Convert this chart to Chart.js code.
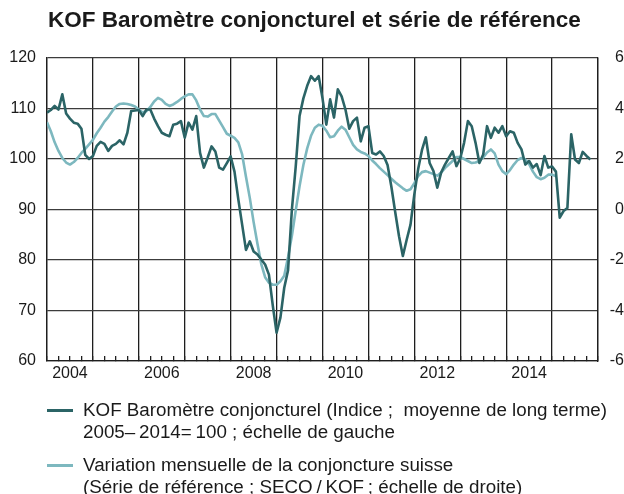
<!DOCTYPE html>
<html>
<head>
<meta charset="utf-8">
<script src="https://cdn.jsdelivr.net/npm/chart.js@4.4.1/dist/chart.umd.min.js"></script>
<style>
  body { margin: 0; background: #fff; font-family: "Liberation Sans", Arial, sans-serif; color: #1a1a1a; }
  #wrap { position: relative; width: 624px; height: 494px; overflow: hidden; }
  #chart { position: absolute; left: 0; top: 0; }
  h1 { position: absolute; left: 48px; top: 7px; margin: 0; font-size: 22.5px; font-weight: bold; white-space: nowrap; }
  .key { position: absolute; left: 47px; font-size: 18.8px; line-height: 22px; white-space: nowrap; }
  .key .dash { position: absolute; left: 0; top: 10px; width: 26px; height: 2.5px; }
  .key .txt { position: absolute; left: 36px; top: 0; }
</style>
</head>
<body>
<div id="wrap">
  <canvas id="chart" width="624" height="494"></canvas>
  <h1>KOF Baromètre conjoncturel et série de référence</h1>
  <div class="key" style="top:399px">
    <span class="dash" style="background:#2b6466"></span>
    <div class="txt">KOF Baromètre conjoncturel (Indice ;&nbsp; moyenne de long terme)<br>2005–&thinsp;2014=&thinsp;100 ; échelle de gauche</div>
  </div>
  <div class="key" style="top:454px">
    <span class="dash" style="background:#7db8bf"></span>
    <div class="txt">Variation mensuelle de la conjoncture suisse<br>(Série de référence ; SECO&thinsp;/&thinsp;KOF&thinsp;; échelle de droite)</div>
  </div>
</div>
<script>
// monthly values, first value = January 2004
const firstYear = 2004
const monthsShown = 144

// KOF barometer, left scale
const kofIndex = [
  109.2, 109.7, 110.5, 109.8, 112.8, 109.0, 108.0, 107.2, 107.0, 106.0, 100.8, 100.0,
  100.6, 102.6, 103.4, 103.0, 101.6, 102.6, 103.0, 103.7, 102.9, 105.2, 109.5, 109.6,
  109.7, 108.5, 109.8, 109.8, 108.0, 106.5, 105.2, 104.8, 104.5, 106.8, 107.0, 107.5,
  104.2, 107.2, 105.8, 108.5, 101.2, 98.3, 100.3, 102.5, 101.5, 98.3, 97.9, 99.2,
  100.5, 97.5, 92.0, 87.0, 82.0, 83.7, 81.7, 81.1, 80.1, 79.1, 77.1, 71.0,
  65.6, 68.6, 74.5, 78.0, 90.0, 98.5, 108.5, 112.0, 114.5, 116.4, 115.5, 116.4,
  112.0, 106.8, 111.8, 108.2, 113.8, 112.4, 109.8, 106.0, 107.5, 108.2, 103.5, 106.2,
  106.5, 101.2, 100.9, 101.5, 100.6, 98.8, 94.5, 89.5, 84.7, 80.8, 84.0, 87.0,
  93.0, 98.0, 101.8, 104.3, 99.2, 97.6, 94.3, 97.3, 98.9, 100.2, 101.5, 98.6,
  100.1, 103.2, 107.5, 106.5, 103.2, 99.2, 100.9, 106.5, 104.2, 106.2, 105.2, 106.5,
  104.5, 105.5, 105.2, 103.2, 101.9, 98.9, 99.6, 98.3, 99.0, 96.8, 100.6, 98.3,
  98.5, 97.5, 88.4, 89.7, 90.3, 104.9, 99.9, 99.2, 101.4, 100.6, 99.9
]

// reference series (monthly change of the Swiss economy), right scale
const referenceSeries = [
  3.46, 3.1, 2.66, 2.32, 2.04, 1.86, 1.78, 1.88, 2.04, 2.24, 2.4, 2.58,
  2.76, 3.02, 3.24, 3.48, 3.66, 3.88, 4.08, 4.18, 4.2, 4.18, 4.14, 4.08,
  3.96, 3.84, 3.9, 4.06, 4.28, 4.42, 4.34, 4.18, 4.1, 4.16, 4.26, 4.38,
  4.48, 4.56, 4.56, 4.32, 3.96, 3.7, 3.68, 3.78, 3.78, 3.52, 3.26, 3.0,
  2.92, 2.84, 2.66, 2.18, 1.3, 0.46, -0.5, -1.36, -2.16, -2.68, -2.9, -2.98,
  -2.98, -2.84, -2.62, -1.88, -1.04, -0.04, 0.92, 1.76, 2.42, 2.92, 3.24, 3.36,
  3.32, 3.12, 2.86, 2.9, 3.12, 3.28, 3.16, 2.86, 2.56, 2.38, 2.28, 2.22,
  2.12, 1.94, 1.8, 1.64, 1.5, 1.36, 1.22, 1.08, 0.96, 0.84, 0.74, 0.8,
  1.04, 1.32, 1.48, 1.52, 1.46, 1.4, 1.34, 1.46, 1.64, 1.78, 1.92, 2.08,
  2.08, 2.0, 1.92, 1.84, 1.86, 1.92, 2.06, 2.26, 2.38, 2.22, 1.78, 1.52,
  1.4, 1.56, 1.78, 1.96, 2.04, 1.98, 1.8, 1.5, 1.28, 1.2, 1.26, 1.38,
  1.38, 1.32
]

const yearLabels = ['2004', '2006', '2008', '2010', '2012', '2014']
const leftTicks = [60, 70, 80, 90, 100, 110, 120]
const rightTicks = [-6, -4, -2, 0, 2, 4, 6]

const darkTeal = '#2b6466'
const lightTeal = '#7db8bf'
const gridDark = '#1e1e1e'
const tickFont = { family: '"Liberation Sans", Arial, sans-serif', size: 16 }

const toPoints = values => values.map((v, i) => ({ x: i, y: v }))

// quarter marks along the bottom, year lines every 12 months
const quarterTicks = []
for (let m = 0; m <= monthsShown; m += 3) quarterTicks.push({ value: m })

const yearLabel = value => {
	if (value % 12 !== 6) return ''
	const label = String(firstYear + (value - 6) / 12)
	return yearLabels.includes(label) ? label : ''
}

new Chart(document.getElementById('chart'), {
	type: 'line',
	data: {
		datasets: [
			{
				label: 'KOF Baromètre conjoncturel',
				data: toPoints(kofIndex),
				borderColor: darkTeal,
				borderWidth: 2.6,
				yAxisID: 'y',
			},
			{
				label: 'Série de référence',
				data: toPoints(referenceSeries),
				borderColor: lightTeal,
				borderWidth: 2.6,
				yAxisID: 'y1',
			},
		],
	},
	options: {
		responsive: false,
		animation: false,
		layout: { padding: { top: 58, bottom: 103, left: 0, right: 0 } },
		elements: { point: { radius: 0 }, line: { tension: 0, borderJoinStyle: 'round' } },
		plugins: { legend: { display: false }, tooltip: { enabled: false } },
		scales: {
			x: {
				type: 'linear',
				min: 0,
				max: monthsShown,
				afterBuildTicks: s => { s.ticks = quarterTicks.slice() },
				afterFit: s => { s.height = 30 },
				ticks: {
					autoSkip: false,
					maxRotation: 0,
					padding: 8,
					color: '#1a1a1a',
					font: tickFont,
					callback: v => yearLabel(v),
				},
				grid: {
					color: c => (c.tick && c.tick.value % 12 === 0 ? gridDark : 'rgba(0,0,0,0)'),
					tickColor: gridDark,
					tickLength: -5,
					lineWidth: 1.3,
				},
				border: { color: gridDark, width: 1.3 },
			},
			y: {
				position: 'left',
				min: 60,
				max: 120,
				afterBuildTicks: s => { s.ticks = leftTicks.map(v => ({ value: v })) },
				afterFit: s => { s.width = 47 },
				ticks: { padding: 11, color: '#1a1a1a', font: tickFont },
				grid: { color: '#3c3c3c', lineWidth: 1.3, drawTicks: false },
				border: { color: gridDark, width: 1.3 },
			},
			y1: {
				position: 'right',
				min: -6,
				max: 6,
				afterBuildTicks: s => { s.ticks = rightTicks.map(v => ({ value: v })) },
				afterFit: s => { s.width = 26 },
				ticks: { crossAlign: 'far', color: '#1a1a1a', font: tickFont },
				grid: { drawOnChartArea: false, drawTicks: false },
				border: { color: gridDark, width: 1.3 },
			},
		},
	},
})
</script>
</body>
</html>
